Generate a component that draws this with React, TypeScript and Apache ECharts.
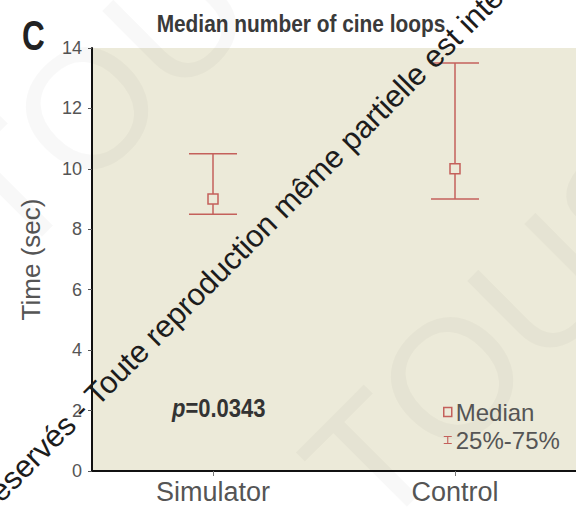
import React, { useEffect, useRef } from 'react';
import * as echarts from 'echarts';

// Cine loop timing: median and interquartile range per training group
const categories = ['Simulator', 'Control'];
const medianValues = [9, 10];
const q25Values = [8.5, 9];
const q75Values = [10.5, 13.5];
const yTickLabels = ['0', '2', '4', '6', '8', '10', '12', '14'];
const pValueText = '0.0343';

const BAR_COLOR = '#c4605b';
const PLOT_BG = '#ecead9';
const SANS = "'Liberation Sans', Arial, sans-serif";

export default function App() {
  const ref = useRef<HTMLDivElement>(null);

  useEffect(() => {
    document.body.style.margin = '0';
    const chart = echarts.init(ref.current as HTMLDivElement, null, { renderer: 'svg' });
    const rangeData = categories.map((_, i) => [i, q25Values[i], q75Values[i]]);
    const d = Math.PI / 4;

    chart.setOption({
      animation: false,
      backgroundColor: '#ffffff',
      grid: {
        left: 92,
        right: 0,
        top: 48,
        bottom: 38,
        show: true,
        backgroundColor: PLOT_BG,
        borderWidth: 0,
      },
      xAxis: {
        type: 'category',
        data: categories,
        boundaryGap: true,
        axisLine: { lineStyle: { color: '#111', width: 2 } },
        axisTick: { show: true, alignWithLabel: true, length: 5, lineStyle: { color: '#777' } },
        axisLabel: { fontFamily: SANS, fontSize: 27, color: '#555', margin: 7 },
      },
      yAxis: {
        type: 'value',
        min: 0,
        max: 14,
        interval: 2,
        name: 'Time (sec)',
        nameLocation: 'middle',
        nameGap: 48,
        nameRotate: 90,
        nameTextStyle: { fontFamily: SANS, fontSize: 26, color: '#555' },
        axisLine: { show: true, lineStyle: { color: '#111', width: 2 } },
        axisTick: { show: true, length: 4, lineStyle: { color: '#555' } },
        axisLabel: {
          fontFamily: SANS,
          fontSize: 18,
          color: '#555',
          margin: 10,
          formatter: (v: number) => yTickLabels[Math.round(v / 2)] ?? '',
        },
        splitLine: { show: false },
      },
      legend: {
        orient: 'vertical',
        left: 438,
        top: 395,
        itemWidth: 8,
        itemHeight: 9,
        itemGap: 4,
        textStyle: { fontFamily: SANS, fontSize: 24, color: '#555', padding: [0, 0, 0, -1] },
        data: [
          {
            name: 'Median',
            icon: 'rect',
            itemStyle: { color: 'transparent', borderColor: BAR_COLOR, borderWidth: 1.5 },
          },
          {
            name: '25%-75%',
            icon: 'path://M0,0H10V1.4H5.7V8.6H10V10H0V8.6H4.3V1.4H0Z',
            itemStyle: { color: BAR_COLOR, borderWidth: 0 },
          },
        ],
      },
      series: [
        {
          type: 'custom',
          name: '25%-75%',
          data: rangeData,
          encode: { x: 0, y: [1, 2] },
          z: 2,
          renderItem: (_params: any, api: any) => {
            const x = api.value(0);
            const lo = api.coord([x, api.value(1)]);
            const hi = api.coord([x, api.value(2)]);
            const half = 24;
            const style = { stroke: BAR_COLOR, lineWidth: 1.5, fill: 'none' };
            return {
              type: 'group',
              children: [
                { type: 'line', shape: { x1: lo[0], y1: lo[1], x2: hi[0], y2: hi[1] }, style },
                { type: 'line', shape: { x1: lo[0] - half, y1: lo[1], x2: lo[0] + half, y2: lo[1] }, style },
                { type: 'line', shape: { x1: hi[0] - half, y1: hi[1], x2: hi[0] + half, y2: hi[1] }, style },
              ],
            };
          },
        },
        {
          type: 'scatter',
          name: 'Median',
          data: medianValues,
          symbol: 'rect',
          symbolSize: 10,
          z: 3,
          itemStyle: { color: PLOT_BG, borderColor: BAR_COLOR, borderWidth: 1.5, opacity: 1 },
        },
      ],
      graphic: [
        // faint background stamp
        {
          type: 'text',
          x: 334,
          y: 496,
          rotation: d,
          z: 1,
          style: {
            text: 'TOUS',
            font: '170px ' + SANS,
            fill: 'rgba(0,0,0,0.028)',
            textAlign: 'left',
            textVerticalAlign: 'middle',
          },
        },
        {
          type: 'text',
          x: -31,
          y: 226,
          rotation: d,
          z: 1,
          style: {
            text: 'TOUS',
            font: '170px ' + SANS,
            fill: 'rgba(0,0,0,0.028)',
            textAlign: 'left',
            textVerticalAlign: 'middle',
          },
        },
        {
          type: 'text',
          x: 22,
          y: 35,
          scaleX: 0.75,
          style: { text: 'C', font: 'bold 42px ' + SANS, fill: '#222', textAlign: 'left', textVerticalAlign: 'middle' },
        },
        {
          type: 'text',
          x: 301,
          y: 24,
          scaleX: 0.87,
          style: {
            text: 'Median number of cine loops',
            font: 'bold 24px ' + SANS,
            fill: '#3a3a3a',
            textAlign: 'center',
            textVerticalAlign: 'middle',
          },
        },
        {
          type: 'text',
          x: 172,
          y: 409,
          z: 5,
          scaleX: 0.88,
          style: {
            text: '{i|p}{b|=' + pValueText + '}',
            textAlign: 'left',
            textVerticalAlign: 'middle',
            rich: {
              i: { font: 'italic bold 25px ' + SANS, fill: '#333' },
              b: { font: 'bold 25px ' + SANS, fill: '#333' },
            },
          },
        },
        // copyright line across the figure
        {
          type: 'text',
          x: 101,
          y: 411,
          rotation: d,
          z: 20,
          style: {
            text: 'Tous droits réservés - ',
            font: '31px ' + SANS,
            fill: '#1c1c1c',
            textAlign: 'right',
            textVerticalAlign: 'bottom',
          },
        },
        {
          type: 'text',
          x: 101,
          y: 411,
          rotation: d,
          z: 20,
          style: {
            text: 'Toute reproduction même partielle est interdite',
            font: '31px ' + SANS,
            fill: '#1c1c1c',
            textAlign: 'left',
            textVerticalAlign: 'bottom',
          },
        },
      ],
    });

    return () => chart.dispose();
  }, []);

  return <div ref={ref} style={{ width: 576, height: 509 }} />;
}
